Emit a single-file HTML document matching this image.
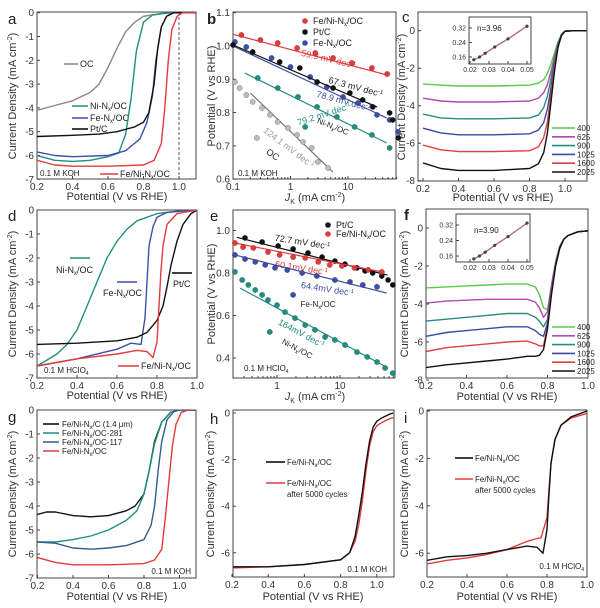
<!DOCTYPE html>
<html><head><meta charset="utf-8"><style>
html,body{margin:0;padding:0;background:#fff;}
svg{display:block;font-family:"Liberation Sans",sans-serif;}
.tk{font-size:10px;fill:#333;}
.at{font-size:11px;fill:#333;}
.lg{font-size:9px;fill:#222;}
.sm{font-size:8px;fill:#222;}
.let{font-size:15px;fill:#222;}
</style></head><body>
<svg id="fig" width="600" height="608" viewBox="0 0 600 608" xmlns="http://www.w3.org/2000/svg">
<defs id="defs"></defs>
<g id="frames" fill="none" stroke="#444" stroke-width="1">
<rect x="37" y="12" width="159" height="167"/>
<rect x="233" y="12" width="163" height="167"/>
<rect x="418" y="12" width="169" height="169"/>
<rect x="37" y="210" width="160" height="168"/>
<rect x="233" y="210" width="162" height="168"/>
<rect x="426" y="209" width="162" height="169"/>
<rect x="37" y="410" width="159" height="168"/>
<rect x="233" y="410" width="161" height="167"/>
<rect x="427" y="410" width="160" height="167"/>
<rect x="469" y="17" width="62" height="47" fill="#fff"/>
<rect x="456" y="214" width="74" height="48" fill="#fff"/>
</g>
<g id="letters">
<text class="let" x="8" y="24">a</text>
<text class="let" x="207" y="24" font-weight="bold">b</text>
<text class="let" x="402" y="22" font-size="12">c</text>
<text class="let" x="8" y="221">d</text>
<text class="let" x="210" y="221">e</text>
<text class="let" x="404" y="220" font-weight="bold">f</text>
<text class="let" x="8" y="422">g</text>
<text class="let" x="210" y="424">h</text>
<text class="let" x="404" y="423">i</text>
</g>
<g id="axis-titles" text-anchor="middle">
<text class="at" transform="translate(16,96) rotate(-90)">Current Density (mA cm<tspan font-size="7" dy="-4">-2</tspan><tspan dy="4">)</tspan></text>
<text class="at" x="117" y="200">Potential (V vs RHE)</text>
<text class="at" transform="translate(215,96) rotate(-90)">Potential (V vs RHE)</text>
<text class="at" x="315" y="201"><tspan font-style="italic">J</tspan><tspan font-size="7" dy="3">K</tspan><tspan dy="-3"> (mA cm</tspan><tspan font-size="7" dy="-4">-2</tspan><tspan dy="4">)</tspan></text>
<text class="at" transform="translate(405,97) rotate(-90)">Current Density (mA cm<tspan font-size="7" dy="-4">-2</tspan><tspan dy="4">)</tspan></text>
<text class="at" x="503" y="201">Potential (V vs RHE)</text>
<text class="at" transform="translate(16,294) rotate(-90)">Current Density (mA cm<tspan font-size="7" dy="-4">-2</tspan><tspan dy="4">)</tspan></text>
<text class="at" x="117" y="399">Potential (V vs RHE)</text>
<text class="at" transform="translate(215,294) rotate(-90)">Potential (V vs RHE)</text>
<text class="at" x="315" y="400"><tspan font-style="italic">J</tspan><tspan font-size="7" dy="3">K</tspan><tspan dy="-3"> (mA cm</tspan><tspan font-size="7" dy="-4">-2</tspan><tspan dy="4">)</tspan></text>
<text class="at" transform="translate(408,294) rotate(-90)">Current Density (mA cm<tspan font-size="7" dy="-4">-2</tspan><tspan dy="4">)</tspan></text>
<text class="at" x="507" y="400">Potential (V vs RHE)</text>
<text class="at" transform="translate(16,494) rotate(-90)">Current Density (mA cm<tspan font-size="7" dy="-4">-2</tspan><tspan dy="4">)</tspan></text>
<text class="at" x="117" y="600">Potential (V vs RHE)</text>
<text class="at" transform="translate(214,494) rotate(-90)">Current Density (mA cm<tspan font-size="7" dy="-4">-2</tspan><tspan dy="4">)</tspan></text>
<text class="at" x="313" y="600">Potential (V vs RHE)</text>
<text class="at" transform="translate(408,494) rotate(-90)">Current Density (mA cm<tspan font-size="7" dy="-4">-2</tspan><tspan dy="4">)</tspan></text>
<text class="at" x="507" y="600">Potential (V vs RHE)</text>
</g>
<g id="annot">
<!-- panel a legend -->
<line x1="64" y1="64" x2="78" y2="64" stroke="#888" stroke-width="1.5"/>
<text class="lg" x="80" y="67">OC</text>
<line x1="72" y1="106" x2="88" y2="106" stroke="#1e9080" stroke-width="1.5"/>
<text class="lg" x="90" y="109">Ni-N<tspan font-size="6" dy="2">x</tspan><tspan dy="-2">/OC</tspan></text>
<line x1="72" y1="118" x2="88" y2="118" stroke="#3c4fa8" stroke-width="1.5"/>
<text class="lg" x="90" y="121">Fe-N<tspan font-size="6" dy="2">x</tspan><tspan dy="-2">/OC</tspan></text>
<line x1="72" y1="129" x2="88" y2="129" stroke="#000" stroke-width="1.5"/>
<text class="lg" x="90" y="132">Pt/C</text>
<line x1="100" y1="174" x2="118" y2="174" stroke="#e33b3b" stroke-width="1.5"/>
<text class="lg" x="120" y="177">Fe/Ni-N<tspan font-size="6" dy="2">x</tspan><tspan dy="-2">/OC</tspan></text>
<text class="sm" x="40" y="176">0.1 M KOH</text>
<line x1="179" y1="12" x2="179" y2="179" stroke="#555" stroke-dasharray="3,2"/>
<!-- panel b -->
<circle cx="305" cy="21" r="2.8" fill="#e33b3b"/><text class="lg" x="313" y="24">Fe/Ni-N<tspan font-size="6" dy="2">x</tspan><tspan dy="-2">/OC</tspan></text>
<circle cx="305" cy="32" r="2.8" fill="#111"/><text class="lg" x="313" y="35">Pt/C</text>
<circle cx="305" cy="43" r="2.8" fill="#3c4fa8"/><text class="lg" x="313" y="46">Fe-N<tspan font-size="6" dy="2">x</tspan><tspan dy="-2">/OC</tspan></text>
<text class="lg" fill="#e33b3b" style="fill:#e33b3b" text-anchor="middle" transform="translate(328,62) rotate(13)">59.9 mV dec<tspan font-size="6" dy="-3">-1</tspan></text>
<text class="lg" text-anchor="middle" transform="translate(355,90) rotate(15)">67.3 mV dec<tspan font-size="6" dy="-3">-1</tspan></text>
<text class="lg" style="fill:#3c4fa8" text-anchor="middle" transform="translate(343,104) rotate(15)">78.9 mV dec<tspan font-size="6" dy="-3">-1</tspan></text>
<text class="lg" style="fill:#1e9080" text-anchor="middle" transform="translate(325,117) rotate(-18)">79.2 mV dec<tspan font-size="6" dy="-3">-1</tspan></text>
<text class="sm" text-anchor="middle" transform="translate(332,129) rotate(22)">Ni-N<tspan font-size="6" dy="2">x</tspan><tspan dy="-2">/OC</tspan></text>
<text class="lg" style="fill:#999" text-anchor="middle" transform="translate(287,150) rotate(37)">124.1 mV dec<tspan font-size="6" dy="-3">-1</tspan></text>
<text class="lg" text-anchor="middle" transform="translate(271,157) rotate(35)">OC</text>
<text class="sm" x="238" y="176">0.1 M KOH</text>
<!-- panel c inset -->
<text class="sm" x="477" y="31">n=3.96</text>
<!-- panel d -->
<line x1="70" y1="258" x2="90" y2="258" stroke="#1e9080" stroke-width="1.5"/>
<text class="lg" x="56" y="273">Ni-N<tspan font-size="6" dy="2">x</tspan><tspan dy="-2">/OC</tspan></text>
<line x1="117" y1="282" x2="137" y2="282" stroke="#3c4fa8" stroke-width="1.5"/>
<text class="lg" x="103" y="296">Fe-N<tspan font-size="6" dy="2">x</tspan><tspan dy="-2">/OC</tspan></text>
<line x1="172" y1="273" x2="192" y2="273" stroke="#000" stroke-width="1.5"/>
<text class="lg" x="173" y="287">Pt/C</text>
<line x1="118" y1="366" x2="139" y2="366" stroke="#e33b3b" stroke-width="1.5"/>
<text class="lg" x="141" y="369">Fe/Ni-N<tspan font-size="6" dy="2">x</tspan><tspan dy="-2">/OC</tspan></text>
<text class="sm" x="44" y="373">0.1 M HClO<tspan font-size="5" dy="2">4</tspan></text>
<!-- panel e -->
<circle cx="328" cy="225" r="2.8" fill="#111"/><text class="lg" x="336" y="228">Pt/C</text>
<circle cx="328" cy="234" r="2.8" fill="#e33b3b"/><text class="lg" x="336" y="237">Fe/Ni-N<tspan font-size="6" dy="2">x</tspan><tspan dy="-2">/OC</tspan></text>
<text class="lg" text-anchor="middle" transform="translate(302,245) rotate(9)">72.7 mV dec<tspan font-size="6" dy="-3">-1</tspan></text>
<text class="lg" style="fill:#e33b3b" text-anchor="middle" transform="translate(301,271) rotate(9)">60.1mV dec<tspan font-size="6" dy="-3">-1</tspan></text>
<text class="lg" style="fill:#3c4fa8" text-anchor="middle" transform="translate(327,292) rotate(9)">64.4mV dec<tspan font-size="6" dy="-3">-1</tspan></text>
<text class="sm" text-anchor="middle" x="318" y="307">Fe-N<tspan font-size="6" dy="2">x</tspan><tspan dy="-2">/OC</tspan></text>
<text class="lg" style="fill:#1e9080" text-anchor="middle" transform="translate(300,336) rotate(28)">164mV dec<tspan font-size="6" dy="-3">-1</tspan></text>
<text class="sm" text-anchor="middle" transform="translate(296,351) rotate(28)">Ni-N<tspan font-size="6" dy="2">x</tspan><tspan dy="-2">/OC</tspan></text>
<text class="sm" x="244" y="371">0.1 M HClO<tspan font-size="5" dy="2">4</tspan></text>
<text class="sm" x="474" y="233">n=3.90</text>
<!-- panel g legend -->
<line x1="43" y1="424" x2="59" y2="424" stroke="#000" stroke-width="1.5"/>
<text class="sm" x="62" y="427">Fe/Ni-N<tspan font-size="6" dy="2">x</tspan><tspan dy="-2">/C (1.4 μm)</tspan></text>
<line x1="43" y1="433" x2="59" y2="433" stroke="#1e9080" stroke-width="1.5"/>
<text class="sm" x="62" y="436">Fe/Ni-N<tspan font-size="6" dy="2">x</tspan><tspan dy="-2">/OC-281</tspan></text>
<line x1="43" y1="442" x2="59" y2="442" stroke="#2f5f8f" stroke-width="1.5"/>
<text class="sm" x="62" y="445">Fe/Ni-N<tspan font-size="6" dy="2">x</tspan><tspan dy="-2">/OC-117</tspan></text>
<line x1="43" y1="451" x2="59" y2="451" stroke="#e33b3b" stroke-width="1.5"/>
<text class="sm" x="62" y="454">Fe/Ni-N<tspan font-size="6" dy="2">x</tspan><tspan dy="-2">/OC</tspan></text>
<text class="sm" x="191" y="574" text-anchor="end">0.1 M KOH</text>
<!-- panel h -->
<line x1="266" y1="462" x2="285" y2="462" stroke="#000" stroke-width="1.5"/>
<text class="sm" x="287" y="465">Fe/Ni-N<tspan font-size="6" dy="2">x</tspan><tspan dy="-2">/OC</tspan></text>
<line x1="266" y1="483" x2="285" y2="483" stroke="#e33b3b" stroke-width="1.5"/>
<text class="sm" x="287" y="486">Fe/Ni-N<tspan font-size="6" dy="2">x</tspan><tspan dy="-2">/OC</tspan></text>
<text class="sm" x="287" y="497">after 5000 cycles</text>
<text class="sm" x="387" y="572" text-anchor="end">0.1 M KOH</text>
<!-- panel i -->
<line x1="455" y1="458" x2="473" y2="458" stroke="#000" stroke-width="1.5"/>
<text class="sm" x="475" y="461">Fe/Ni-N<tspan font-size="6" dy="2">x</tspan><tspan dy="-2">/OC</tspan></text>
<line x1="455" y1="479" x2="473" y2="479" stroke="#e33b3b" stroke-width="1.5"/>
<text class="sm" x="475" y="482">Fe/Ni-N<tspan font-size="6" dy="2">x</tspan><tspan dy="-2">/OC</tspan></text>
<text class="sm" x="475" y="493">after 5000 cycles</text>
<text class="sm" x="584" y="569" text-anchor="end">0.1 M HClO<tspan font-size="5" dy="2">4</tspan></text>
</g>
<g id="marks"></g>
</svg>
<script>
// ---------- data ----------
const linTicks02 = [0.2,0.4,0.6,0.8,1.0];
const aYTicks = [0,-1,-2,-3,-4,-5,-6,-7];
const bXTicks = [0.1,1,10];
const bYTicks = [0.6,0.7,0.8,0.9,1.0,1.1];
const cYTicks = [0,-2,-4,-6,-8];
const eXTicks = [1,10];
const eYTicks = [0.4,0.6,0.8,1.0];
const hYTicks = [0,-2,-4,-6];
const insetXTicks = [0.02,0.03,0.04,0.05];
const insetYTicks = [0.16,0.24,0.32];

// panel a
const aOC = [[0.2,-4.1],[0.3,-3.9],[0.4,-3.7],[0.5,-3.35],[0.55,-3.0],[0.6,-2.3],[0.65,-1.5],[0.7,-0.8],[0.75,-0.4],[0.8,-0.15],[0.9,-0.03],[1.0,0],[1.1,0]];
const aNi = [[0.2,-6.0],[0.3,-6.2],[0.4,-6.25],[0.5,-6.2],[0.6,-6.05],[0.66,-5.9],[0.7,-5.1],[0.73,-3.6],[0.76,-1.6],[0.8,-0.4],[0.85,-0.1],[0.95,0],[1.1,0]];
const aFe = [[0.2,-5.85],[0.3,-6.0],[0.4,-6.05],[0.6,-6.0],[0.7,-5.8],[0.78,-5.3],[0.82,-4.6],[0.85,-3.5],[0.87,-2.0],[0.9,-0.6],[0.93,-0.15],[0.97,0],[1.1,0]];
const aPt = [[0.2,-5.2],[0.4,-5.15],[0.55,-5.1],[0.65,-5.0],[0.75,-4.8],[0.8,-4.6],[0.83,-4.2],[0.86,-3.0],[0.88,-1.5],[0.9,-0.6],[0.93,-0.15],[0.97,0],[1.1,0]];
const aFeNi = [[0.2,-6.2],[0.3,-6.4],[0.4,-6.45],[0.6,-6.45],[0.8,-6.4],[0.86,-6.2],[0.9,-5.5],[0.92,-4.0],[0.94,-2.0],[0.96,-0.7],[0.99,-0.15],[1.02,0],[1.1,0]];

// panel b (Tafel, KOH)
const bFeNiPts = [[0.14,1.033],[0.3,1.018],[0.6,1.009],[1.3,0.994],[2.7,0.979],[5.5,0.964],[11.7,0.949],[26,0.934],[48,0.916]];
const bFeNiFit = [[0.1,1.035],[48,0.913]];
const bPtPts = [[0.1,1.003],[0.22,0.982],[0.65,0.952],[1.45,0.934],[2.9,0.892],[5.5,0.874],[10.8,0.859],[18,0.838],[27,0.817],[53,0.799],[60,0.778],[75,0.724]];
const bPtFit = [[0.1,1.003],[32,0.817]];
const bFePts = [[0.108,1.012],[0.17,0.997],[0.47,0.964],[1,0.937],[2.2,0.907],[4.3,0.877],[8.2,0.847],[15,0.829],[32,0.793],[53,0.778],[74,0.742]];
const bFeFit = [[0.1,1.0],[47,0.784]];
const bNiPts = [[0.27,0.904],[0.6,0.874],[1.35,0.847],[2.9,0.817],[6.4,0.787],[13,0.757],[26,0.733],[53,0.694],[1.8,0.757]];
const bNiFit = [[0.16,0.919],[47,0.709]];
const bOCPts = [[0.108,0.892],[0.13,0.874],[0.17,0.853],[0.22,0.832],[0.32,0.814],[0.44,0.793],[0.6,0.772],[0.9,0.754],[1.3,0.733],[1.65,0.712],[2.35,0.694],[3.0,0.652],[4.5,0.634],[0.26,0.724]];
const bOCFit = [[0.2,0.859],[5.5,0.621]];

// panel c (RDE, KOH)
const cX = [0.2,0.3,0.4,0.6,0.8,0.85,0.88,0.9,0.92,0.94,0.96,0.98,1.0,1.05,1.12];
const c400 = [-2.85,-2.9,-2.95,-2.95,-2.9,-2.8,-2.6,-2.3,-1.8,-1.2,-0.6,-0.2,-0.02,0,0];
const c625 = [-3.6,-3.75,-3.8,-3.8,-3.75,-3.6,-3.3,-2.9,-2.2,-1.4,-0.7,-0.2,-0.02,0,0];
const c900 = [-4.45,-4.65,-4.7,-4.7,-4.65,-4.5,-4.1,-3.5,-2.6,-1.6,-0.7,-0.2,-0.02,0,0];
const c1025 = [-5.2,-5.45,-5.55,-5.55,-5.5,-5.3,-4.9,-4.2,-3.1,-1.8,-0.8,-0.2,-0.02,0,0];
const c1600 = [-6.1,-6.35,-6.45,-6.45,-6.4,-6.2,-5.7,-4.9,-3.5,-2.0,-0.9,-0.25,-0.03,0,0];
const c2025 = [-7.05,-7.35,-7.45,-7.45,-7.35,-7.1,-6.5,-5.5,-3.9,-2.2,-0.9,-0.25,-0.03,0,0];
const rpmLabels = ["400","625","900","1025","1600","2025"];
const insetX = [0.022,0.025,0.028,0.033,0.04,0.05];
const insetY = [0.145,0.16,0.18,0.215,0.26,0.33];

// panel d (acid LSV)
const dNi = [[0.2,-6.5],[0.3,-6.0],[0.35,-5.6],[0.4,-5.0],[0.45,-4.0],[0.5,-3.0],[0.55,-2.0],[0.6,-1.3],[0.65,-0.8],[0.7,-0.45],[0.8,-0.15],[0.9,-0.05],[1.0,0]];
const dFe = [[0.2,-6.5],[0.4,-6.2],[0.6,-5.8],[0.67,-5.55],[0.72,-5.6],[0.74,-4.5],[0.75,-3.0],[0.76,-1.5],[0.78,-0.7],[0.8,-0.3],[0.85,-0.1],[0.95,-0.02],[1.0,0]];
const dFeNi = [[0.2,-6.5],[0.4,-6.2],[0.6,-6.0],[0.7,-5.85],[0.75,-5.9],[0.78,-6.15],[0.8,-5.5],[0.81,-4.0],[0.82,-2.5],[0.83,-1.5],[0.85,-0.6],[0.9,-0.15],[1.0,0]];
const dPt = [[0.2,-5.6],[0.4,-5.55],[0.6,-5.45],[0.7,-5.3],[0.75,-5.1],[0.8,-4.6],[0.83,-4.0],[0.85,-3.2],[0.87,-2.3],[0.9,-1.3],[0.93,-0.6],[0.97,-0.15],[1.0,0]];

// panel e (Tafel, acid)
const ePtPts = [[0.31,0.965],[0.58,0.946],[1.04,0.927],[1.8,0.913],[3.1,0.894],[5.2,0.875],[8.3,0.856],[12,0.842],[18.6,0.824],[25,0.81],[33,0.8],[46,0.786],[58,0.767],[69,0.744]];
const ePtFit = [[0.23,0.968],[57,0.79]];
const eFeNiPts = [[0.215,0.941],[0.29,0.922],[0.42,0.918],[0.72,0.899],[1.1,0.885],[1.8,0.875],[2.8,0.871],[4.5,0.852],[6.9,0.838],[10.7,0.833],[17,0.824],[28,0.815],[46,0.805]];
const eFeNiFit = [[0.215,0.941],[46,0.805]];
const eFePts = [[0.215,0.885],[0.31,0.866],[0.45,0.852],[0.65,0.838],[0.93,0.824],[1.45,0.814],[2.5,0.8],[4.3,0.786],[8.3,0.767],[14.4,0.758],[23,0.744],[38.6,0.735],[1.8,0.697]];
const eFeFit = [[0.215,0.885],[55,0.706]];
const eNiPts = [[0.215,0.805],[0.28,0.767],[0.35,0.744],[0.45,0.72],[0.58,0.697],[0.72,0.673],[1.0,0.649],[1.34,0.616],[1.93,0.588],[2.8,0.555],[4.0,0.532],[5.8,0.499],[8.3,0.485],[12,0.461],[18.6,0.428],[27,0.405],[38.6,0.381],[52,0.353],[69,0.329],[0.77,0.523]];
const eNiFit = [[0.26,0.729],[58,0.353]];

// panel f (RDE, acid)
const fX = [0.2,0.3,0.4,0.5,0.6,0.7,0.74,0.76,0.78,0.8,0.82,0.84,0.86,0.88,0.9,0.95,1.0];
const f400 = [-3.15,-3.1,-3.05,-3.0,-2.95,-2.95,-3.1,-3.5,-4.2,-4.3,-3.0,-1.8,-1.0,-0.6,-0.4,-0.2,-0.15];
const f625 = [-3.95,-3.85,-3.8,-3.75,-3.75,-3.75,-3.9,-4.2,-4.7,-4.4,-3.0,-1.8,-1.0,-0.6,-0.4,-0.2,-0.15];
const f900 = [-4.9,-4.8,-4.7,-4.6,-4.5,-4.5,-4.7,-4.9,-5.2,-4.8,-3.2,-1.9,-1.0,-0.6,-0.4,-0.2,-0.15];
const f1025 = [-5.7,-5.5,-5.4,-5.3,-5.2,-5.2,-5.4,-5.6,-5.7,-5.0,-3.3,-1.9,-1.0,-0.6,-0.4,-0.2,-0.15];
const f1600 = [-6.5,-6.3,-6.2,-6.1,-6.0,-5.95,-6.1,-6.2,-6.2,-5.2,-3.4,-2.0,-1.1,-0.6,-0.4,-0.2,-0.15];
const f2025 = [-7.35,-7.2,-7.1,-7.0,-6.9,-6.75,-6.75,-6.7,-6.4,-5.3,-3.5,-2.0,-1.1,-0.6,-0.4,-0.2,-0.15];

// panel g
const gC = [[0.2,-4.35],[0.25,-4.25],[0.3,-4.25],[0.4,-4.4],[0.5,-4.45],[0.6,-4.4],[0.7,-4.2],[0.75,-4.0],[0.8,-3.5],[0.83,-2.5],[0.86,-1.3],[0.9,-0.5],[0.95,-0.1],[1.0,0],[1.1,0]];
const g281 = [[0.2,-5.5],[0.3,-5.5],[0.4,-5.4],[0.5,-5.25],[0.6,-5.0],[0.7,-4.6],[0.76,-4.2],[0.8,-3.5],[0.83,-2.5],[0.86,-1.4],[0.9,-0.5],[0.95,-0.1],[1.0,0],[1.1,0]];
const g117 = [[0.2,-5.5],[0.3,-5.55],[0.4,-5.75],[0.5,-5.8],[0.6,-5.75],[0.7,-5.65],[0.8,-5.4],[0.84,-4.8],[0.86,-4.0],[0.88,-2.5],[0.9,-1.3],[0.93,-0.4],[0.97,-0.05],[1.0,0],[1.1,0]];
const gOC = [[0.2,-6.15],[0.3,-6.35],[0.4,-6.45],[0.6,-6.45],[0.8,-6.4],[0.86,-6.25],[0.9,-5.8],[0.92,-4.5],[0.94,-3.0],[0.96,-1.5],[0.98,-0.6],[1.01,-0.1],[1.05,0],[1.1,0]];

// panel h
const hFresh = [[0.2,-6.6],[0.4,-6.6],[0.6,-6.5],[0.8,-6.3],[0.85,-6.0],[0.88,-5.3],[0.9,-4.4],[0.92,-3.4],[0.94,-2.2],[0.96,-1.2],[0.98,-0.6],[1.0,-0.35],[1.03,-0.2],[1.07,-0.05],[1.09,0]];
const hCycled = [[0.2,-6.65],[0.4,-6.6],[0.6,-6.5],[0.8,-6.3],[0.85,-6.0],[0.88,-5.5],[0.9,-4.8],[0.92,-3.8],[0.94,-2.5],[0.96,-1.4],[0.98,-0.8],[1.0,-0.55],[1.03,-0.4],[1.07,-0.25],[1.09,-0.2]];

// panel i
const iFresh = [[0.2,-6.3],[0.3,-6.15],[0.4,-6.1],[0.5,-6.0],[0.6,-5.85],[0.7,-5.7],[0.75,-5.75],[0.78,-6.0],[0.8,-5.0],[0.81,-3.5],[0.82,-2.2],[0.84,-1.2],[0.87,-0.6],[0.92,-0.25],[1.0,0]];
const iCycled = [[0.2,-6.45],[0.3,-6.3],[0.4,-6.2],[0.5,-6.05],[0.6,-5.85],[0.7,-5.5],[0.74,-5.4],[0.77,-5.35],[0.8,-4.5],[0.81,-3.3],[0.82,-2.2],[0.84,-1.2],[0.87,-0.6],[0.92,-0.3],[1.0,-0.1]];

// ---------- rendering ----------
const NS = 'http://www.w3.org/2000/svg';
const root = document.getElementById('marks');
const defs = document.getElementById('defs');
const RED='#e33b3b', BLK='#111', BLUE='#3c4fa8', TEAL='#1e9080', GRAY='#888';
const rpmColors = ['#5cc84a','#b04ab0','#2a8a80','#3a4aa0','#e04040','#111'];
function mk(tag, parent){ const e=document.createElementNS(NS,tag); parent.appendChild(e); return e; }
const L10 = Math.log10;
const P = {
  a:{id:'a',l:37,t:12,r:196,b:179,sx:v=>37+(v-0.2)*177.5,sy:v=>12.7-v*23.8},
  b:{id:'b',l:233,t:12,r:396,b:179,sx:v=>233+(L10(v)+1)*57.5,sy:v=>12.7+(1.1-v)*333},
  c:{id:'c',l:418,t:12,r:587,b:181,sx:v=>423+(v-0.2)*177.5,sy:v=>30.7-v*18.75},
  d:{id:'d',l:37,t:210,r:197,b:378,sx:v=>37+(v-0.2)*200,sy:v=>210-v*24},
  e:{id:'e',l:233,t:210,r:395,b:378,sx:v=>277+L10(v)*63,sy:v=>230.5+(1-v)*212.5},
  f:{id:'f',l:426,t:209,r:588,b:378,sx:v=>426+(v-0.2)*202.5,sy:v=>228-v*19},
  g:{id:'g',l:37,t:410,r:196,b:578,sx:v=>37.5+(v-0.2)*177.5,sy:v=>410-v*24},
  h:{id:'h',l:233,t:410,r:394,b:577,sx:v=>232+(v-0.2)*181,sy:v=>413-v*23.3},
  i:{id:'i',l:427,t:410,r:587,b:577,sx:v=>427+(v-0.2)*200,sy:v=>411-v*23.7},
  ci:{id:'ci',l:469,t:17,r:531,b:64,sx:v=>470+(v-0.02)*1900,sy:v=>28+(0.32-v)*181},
  fi:{id:'fi',l:456,t:214,r:530,b:262,sx:v=>470+(v-0.02)*1900,sy:v=>225+(0.32-v)*194}
};
Object.values(P).forEach(p=>{
  const cp = mk('clipPath', defs);
  cp.setAttribute('id','clip-'+p.id);
  const r = mk('rect', cp);
  r.setAttribute('x',p.l); r.setAttribute('y',p.t); r.setAttribute('width',p.r-p.l); r.setAttribute('height',p.b-p.t);
});
function curve(p, pts, color, name, w){
  const path = mk('path', root);
  path.setAttribute('d', pts.map((q,k)=>(k?'L':'M')+p.sx(q[0]).toFixed(1)+','+p.sy(q[1]).toFixed(1)).join(''));
  path.setAttribute('fill','none');
  path.setAttribute('stroke',color);
  path.setAttribute('stroke-width', w||1.4);
  path.setAttribute('stroke-linejoin','round');
  path.setAttribute('clip-path','url(#clip-'+p.id+')');
  
  
}
function xyCurve(p, xs, ys, color, name){ curve(p, xs.map((x,k)=>[x,ys[k]]), color, name); }
function dots(p, pts, color, name, r){
  pts.forEach(q=>{
    const c = mk('circle', root);
    c.setAttribute('cx', p.sx(q[0]).toFixed(1));
    c.setAttribute('cy', p.sy(q[1]).toFixed(1));
    c.setAttribute('r', r||2.7);
    c.setAttribute('fill', color);
    c.setAttribute('stroke', color===GRAY?'#666':'rgba(0,0,0,0.35)');
    c.setAttribute('stroke-width','0.5');
    
    
  });
}
function ticks(p, xt, yt, xf, yf, fs, minorX, minorY){
  const len = 3;
  xt.forEach(v=>{
    const x = p.sx(v);
    const t = mk('line', root);
    t.setAttribute('x1',x); t.setAttribute('x2',x); t.setAttribute('y1',p.b); t.setAttribute('y2',p.b-len);
    t.setAttribute('stroke','#444');
    
    
    const lab = mk('text', root);
    lab.setAttribute('x',x); lab.setAttribute('y',p.b+(fs?fs+1:11));
    lab.setAttribute('text-anchor','middle');
    lab.setAttribute('class','tk');
    if(fs) lab.setAttribute('style','font-size:'+fs+'px');
    lab.textContent = xf(v);
    
    
  });
  yt.forEach(v=>{
    const y = p.sy(v);
    const t = mk('line', root);
    t.setAttribute('x1',p.l); t.setAttribute('x2',p.l+len); t.setAttribute('y1',y); t.setAttribute('y2',y);
    t.setAttribute('stroke','#444');
    
    
    const lab = mk('text', root);
    lab.setAttribute('x',p.l-3); lab.setAttribute('y',y+(fs?fs*0.35:3.5));
    lab.setAttribute('text-anchor','end');
    lab.setAttribute('class','tk');
    if(fs) lab.setAttribute('style','font-size:'+fs+'px');
    lab.textContent = yf(v);
    
    
  });
  (minorX||[]).forEach(v=>{
    const x = p.sx(v);
    const t = mk('line', root);
    t.setAttribute('x1',x); t.setAttribute('x2',x); t.setAttribute('y1',p.b); t.setAttribute('y2',p.b-2);
    t.setAttribute('stroke','#444');
    
    
  });
  (minorY||[]).forEach(v=>{
    const y = p.sy(v);
    const t = mk('line', root);
    t.setAttribute('x1',p.l); t.setAttribute('x2',p.l+2); t.setAttribute('y1',y); t.setAttribute('y2',y);
    t.setAttribute('stroke','#444');
    
    
  });
}
const f1 = v=>v.toFixed(1), f0 = v=>String(v), f2 = v=>v.toFixed(2), flog = v=>String(v);
const logMinorB = [0.2,0.3,0.4,0.5,0.6,0.7,0.8,0.9,2,3,4,5,6,7,8,9,20,30,40,50,60,70];
const logMinorE = [0.3,0.4,0.5,0.6,0.7,0.8,0.9,2,3,4,5,6,7,8,9,20,30,40,50,60,70];

ticks(P.a, linTicks02, aYTicks, f1, f0);
ticks(P.b, bXTicks, bYTicks, flog, f1, 0, logMinorB);
ticks(P.c, linTicks02, cYTicks, f1, f0);
ticks(P.d, linTicks02, aYTicks, f1, f0);
ticks(P.e, eXTicks, eYTicks, flog, f1, 0, logMinorE);
ticks(P.f, linTicks02, cYTicks, f1, f0);
ticks(P.g, linTicks02, aYTicks, f1, f0);
ticks(P.h, linTicks02, hYTicks, f1, f0);
ticks(P.i, linTicks02, hYTicks, f1, f0);
ticks(P.ci, insetXTicks, insetYTicks, f2, f2, 7);
ticks(P.fi, insetXTicks, insetYTicks, f2, f2, 7);

// a
curve(P.a, aOC, GRAY, 'curve-a-oc');
curve(P.a, aNi, TEAL, 'curve-a-ni');
curve(P.a, aFe, BLUE, 'curve-a-fe');
curve(P.a, aPt, BLK, 'curve-a-pt');
curve(P.a, aFeNi, RED, 'curve-a-feni');
// b
curve(P.b, bFeNiFit, RED, 'fit-b-feni', 1.2); dots(P.b, bFeNiPts, RED, 'point-b-feni');
curve(P.b, bFeFit, BLUE, 'fit-b-fe', 1.2); dots(P.b, bFePts, BLUE, 'point-b-fe');
curve(P.b, bPtFit, BLK, 'fit-b-pt', 1.2); dots(P.b, bPtPts, BLK, 'point-b-pt');
curve(P.b, bNiFit, TEAL, 'fit-b-ni', 1.2); dots(P.b, bNiPts, TEAL, 'point-b-ni');
curve(P.b, bOCFit, '#777', 'fit-b-oc', 1.2); dots(P.b, bOCPts, '#bbb', 'point-b-oc');
// c
[c400,c625,c900,c1025,c1600,c2025].forEach((ys,k)=>xyCurve(P.c, cX, ys, rpmColors[k], 'curve-c-'+rpmLabels[k]));
// d
curve(P.d, dNi, TEAL, 'curve-d-ni');
curve(P.d, dFe, BLUE, 'curve-d-fe');
curve(P.d, dPt, BLK, 'curve-d-pt');
curve(P.d, dFeNi, RED, 'curve-d-feni');
// e
curve(P.e, ePtFit, BLK, 'fit-e-pt', 1.2); dots(P.e, ePtPts, BLK, 'point-e-pt');
curve(P.e, eFeNiFit, RED, 'fit-e-feni', 1.2); dots(P.e, eFeNiPts, RED, 'point-e-feni');
curve(P.e, eFeFit, BLUE, 'fit-e-fe', 1.2); dots(P.e, eFePts, BLUE, 'point-e-fe');
curve(P.e, eNiFit, TEAL, 'fit-e-ni', 1.2); dots(P.e, eNiPts, TEAL, 'point-e-ni');
// f
[f400,f625,f900,f1025,f1600,f2025].forEach((ys,k)=>xyCurve(P.f, fX, ys, rpmColors[k], 'curve-f-'+rpmLabels[k]));
// g
curve(P.g, gC, BLK, 'curve-g-c');
curve(P.g, g281, TEAL, 'curve-g-281');
curve(P.g, g117, '#2f5f8f', 'curve-g-117');
curve(P.g, gOC, RED, 'curve-g-oc');
// h, i
curve(P.h, hCycled, RED, 'curve-h-cycled');
curve(P.h, hFresh, BLK, 'curve-h-fresh');
curve(P.i, iCycled, RED, 'curve-i-cycled');
curve(P.i, iFresh, BLK, 'curve-i-fresh');
// insets
[P.ci, P.fi].forEach((p,k)=>{
  xyCurve(p, insetX, insetY, '#b07080', k?'inset-f-line':'inset-c-line');
  dots(p, insetX.map((x,j)=>[x,insetY[j]]), '#444', k?'inset-f-point':'inset-c-point', 1.5);
});
// rpm legends
[[P.c,128],[P.f,327]].forEach((pl,k)=>{
  rpmLabels.forEach((lab,j)=>{
    const y = pl[1] + j*8.8;
    const ln = mk('line', root);
    ln.setAttribute('x1',552); ln.setAttribute('x2',575); ln.setAttribute('y1',y); ln.setAttribute('y2',y);
    ln.setAttribute('stroke', rpmColors[j]); ln.setAttribute('stroke-width',1.6);
    
    
    const t = mk('text', root);
    t.setAttribute('x',577); t.setAttribute('y',y+3);
    t.setAttribute('class','sm');
    t.textContent = lab;
    
    
  });
});
</script>
</body></html>
